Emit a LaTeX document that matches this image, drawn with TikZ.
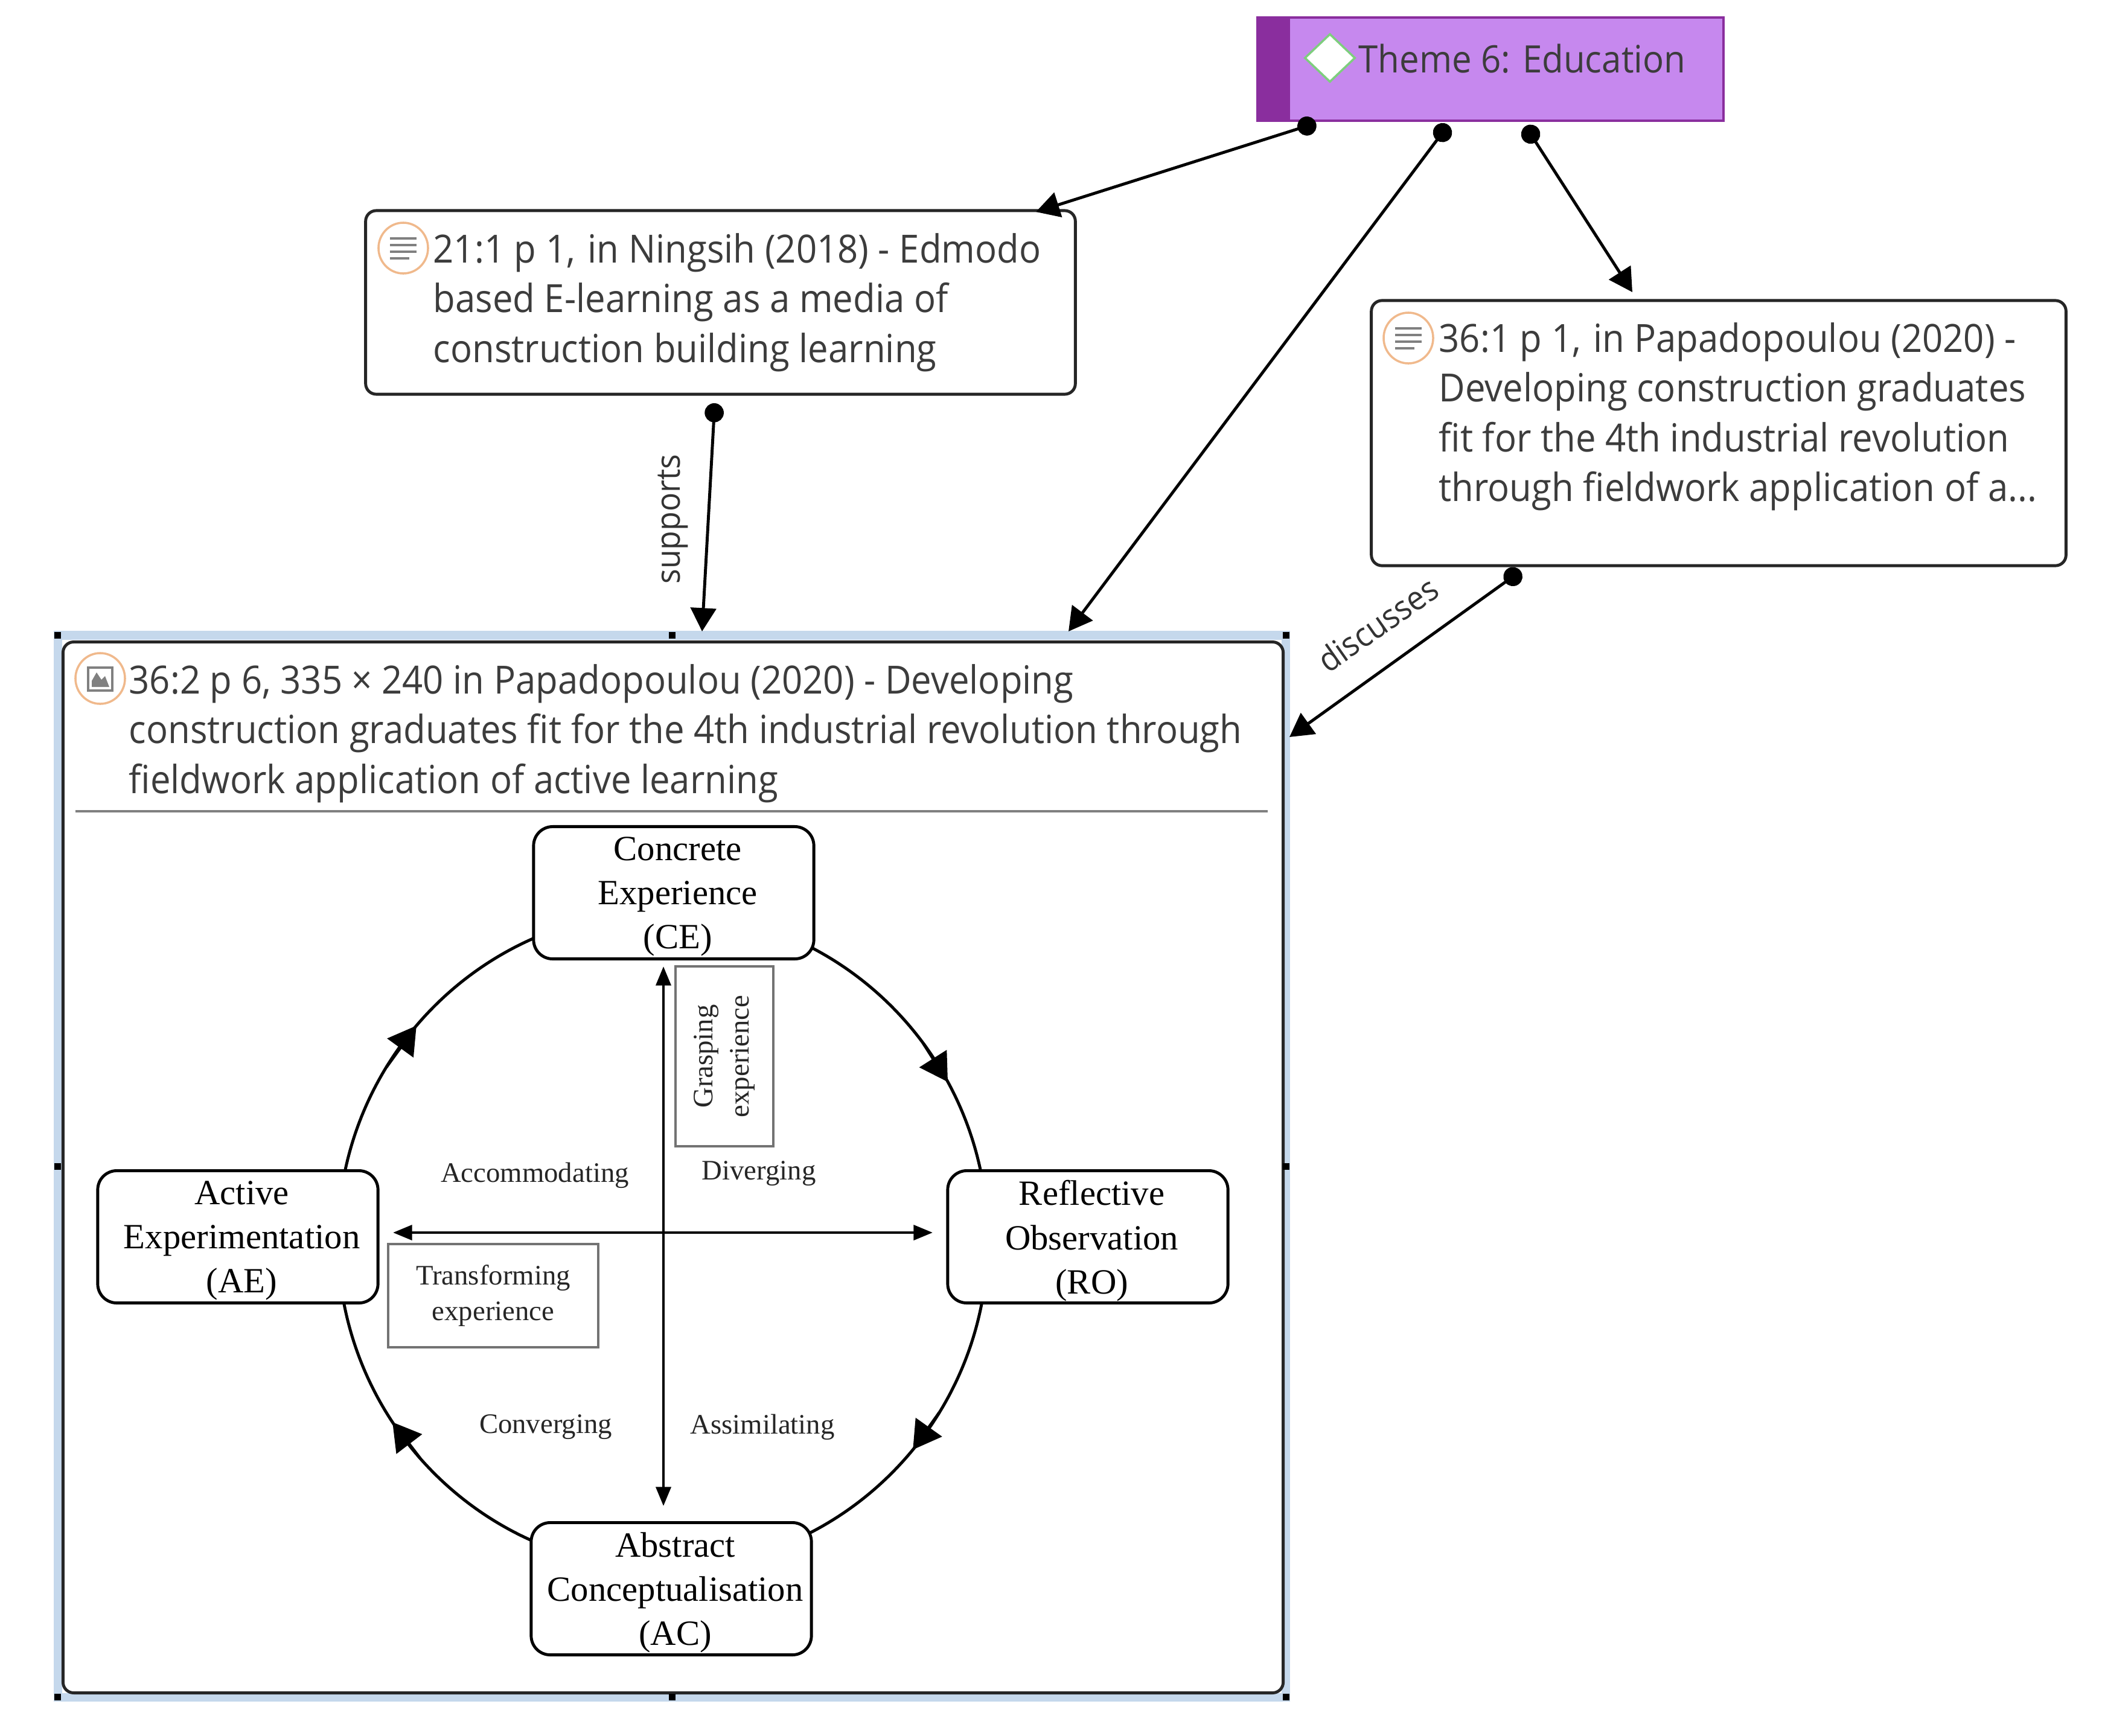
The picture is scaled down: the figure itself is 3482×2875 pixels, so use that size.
\documentclass[tikz,border=0pt]{standalone}
\usepackage{fontspec}
\setmainfont{Liberation Serif}
\newfontfamily\uifont[FakeStretch=0.93]{Open Sans}
\usetikzlibrary{arrows.meta, positioning, shapes.geometric}
\definecolor{uitext}{HTML}{3C3C3C}
\definecolor{themefill}{HTML}{C688EE}
\definecolor{themedark}{HTML}{8A2E9E}
\definecolor{selblue}{HTML}{C5D8EC}
\definecolor{ringorange}{HTML}{F0B98C}
\tikzset{
  note/.style={draw=black!85, line width=1.4pt, rounded corners=5pt, fill=white, inner sep=0pt, outer sep=0pt},
  notetext/.style={anchor=north west, inner sep=0pt, align=left, text=uitext,
    font=\uifont\fontsize{18.3}{23.4}\selectfont},
  reltext/.style={inner sep=0pt, text=black!80, font=\uifont\fontsize{15.8}{18}\selectfont},
  iconring/.style={draw=ringorange, line width=1pt, fill=white, ellipse, minimum width=0.82cm, minimum height=0.84cm, inner sep=0pt},
  iconline/.style={draw=gray, line width=1.1pt},
  link/.style={line width=1.4pt, {Circle[length=9pt,width=9pt]}-{Triangle[length=11pt,width=12pt]}},
  stage/.style={draw, line width=1.4pt, rounded corners=9pt, fill=white, inner sep=0pt, outer sep=0pt,
    minimum width=4.64cm, minimum height=2.19cm},
  stagetext/.style={inner sep=0pt, xshift=0.066cm, yshift=-0.066cm, align=center, font=\fontsize{16.7}{20.8}\selectfont},
  small/.style={inner sep=0pt, align=center, font=\fontsize{13.3}{17}\selectfont, text=black!85},
  smallbox/.style={draw=black!55, line width=1pt, inner sep=0pt, outer sep=0pt},
  axis/.style={line width=1.4pt, {Triangle[length=9pt,width=7pt]}-{Triangle[length=9pt,width=7pt]}},
  turn/.style={line width=1.4pt, -{Triangle[length=13pt,width=15pt]}},
  handle/.style={fill=black, inner sep=0pt, minimum size=0.11cm}
}
\begin{document}
\begin{tikzpicture}[x=0.01cm, y=-0.01cm]
  \useasboundingbox (0,0) rectangle (3482,2875);

  % theme
  \node[fill=themefill, draw=themedark, line width=1.1pt, minimum width=7.72cm, minimum height=1.71cm, inner sep=0pt, outer sep=0pt] (theme) at (2469,114.5) {};
  \fill[themedark] (theme.north west) rectangle (2137,200);
  \node[diamond, draw=green!45!gray!70, fill=white, line width=1pt, minimum width=0.84cm, minimum height=0.8cm, inner sep=0pt] (themeicon) at (2203,96) {};
  \node[notetext, font=\uifont\fontsize{17.8}{23.4}\selectfont] (themetext) at (2250,72) {Theme 6: Education};

  % quotations
  \node[note, minimum width=11.75cm, minimum height=3.04cm] (n21) at (1193.5,501) {};
  \node[note, minimum width=11.5cm, minimum height=4.39cm] (n36) at (2847,717.5) {};
  \foreach \n/\ix/\iy in {a/668/411,b/2333/560}
  {
    \node[iconring] (ic\n) at (\ix,\iy) {};
    \foreach \k/\w in {0/22,1/22,2/22,3/10}
      \draw[iconline] (\ix-22,\iy-16+\k*11) -- (\ix+\w,\iy-16+\k*11);
  }
  \node[notetext] (t21) at (717,386) {21:1 p 1,\ \kern1.5pt in Ningsih (2018) - Edmodo\\based E-learning as a media of\\construction building learning};
  \node[notetext] (t36) at (2383,534) {36:1 p 1,\ \kern1.5pt in Papadopoulou (2020) -\\Developing construction graduates\\fit for the 4th industrial revolution\\through fieldwork application of a...};

  % selected picture
  \node[draw=selblue, line width=4pt, minimum width=20.33cm, minimum height=17.58cm, inner sep=0pt, outer sep=0pt] (sel) at (1113,1932) {};
  \node[note, minimum width=20.2cm, minimum height=17.4cm] (pict) at (1115,1934) {};
  \foreach \a/\n in {north west/a,north/b,north east/c,west/d,east/e,south west/f,south/g,south east/h}
    \node[handle] (hd\n) at (sel.\a) {};
  \node[iconring] (icp) at (166,1124) {};
  \draw[draw=gray, line width=1pt] (146,1106) rectangle (186,1144);
  \fill[gray] (152,1138) -- (152,1128) -- (160,1114) -- (168,1126) -- (174,1120) -- (181,1138) -- cycle;
  \node[notetext] (tp) at (213,1100) {36:2 p 6, 335 × 240 in Papadopoulou (2020) - Developing\\construction graduates fit for the 4th industrial revolution through\\fieldwork application of active learning};
  \draw[draw=gray, line width=1pt] (125,1344) -- (2100,1344);

  % cycle
  \node[ellipse, draw, line width=1.4pt, minimum width=10.76cm, minimum height=10.88cm, inner sep=0pt, outer sep=0pt] (ring) at (1098,2054) {};
  \foreach \p/\q in {148/139.5,37/29,-32/-40,222.5/214}
    \draw[turn] (ring.\p) -- (ring.\q);
  \foreach \n/\ix/\iy/\txt in {ce/1116/1479/{Concrete\\Experience\\(CE)},
                               ro/1802/2049/{Reflective\\Observation\\(RO)},
                               ac/1112/2632/{Abstract\\Conceptualisation\\(AC)},
                               ae/394/2049/{Active\\Experimentation\\(AE)}}
  {
    \node[stage] (\n) at (\ix,\iy) {};
    \node[stagetext] (\n text) at (\n) {\txt};
  }
  \coordinate (vtop) at (1099,1601);
  \coordinate (vbot) at (1099,2495);
  \coordinate (hleft) at (651,2042);
  \coordinate (hright) at (1545,2042);
  \draw[axis] (vtop) -- (vbot);
  \draw[axis] (hleft) -- (hright);
  \node[smallbox, minimum width=1.62cm, minimum height=2.98cm] (grasp) at (1200,1750) {};
  \node[small, rotate=90] (grasptext) at (grasp) {Grasping\\experience};
  \node[smallbox, minimum width=3.48cm, minimum height=1.71cm] (trans) at (817,2146.5) {};
  \node[small] (transtext) at (trans) {Transforming\\experience};
  \node[small] (acc) at (886,1947) {Accommodating};
  \node[small] (div) at (1257,1944) {Diverging};
  \node[small] (conv) at (904,2364) {Converging};
  \node[small] (assim) at (1263,2364) {Assimilating};

  % links
  \coordinate (s1) at (2180,204);
  \coordinate (s2) at (2399,207);
  \coordinate (s3) at (2527,209);
  \coordinate (s4) at (2519,946);
  \coordinate (s5) at (1184,668);
  \coordinate (e1) at (1716,351);
  \coordinate (e2) at (1770,1046);
  \coordinate (e3) at (2704,484);
  \coordinate (e4) at (2136,1221);
  \coordinate (e5) at (1163,1046);
  \foreach \s/\e in {s1/e1,s2/e2,s3/e3,s4/e4,s5/e5}
    \draw[link] (\s) -- (\e);
  \node[reltext, rotate=90] (supports) at (1115,860) {supports};
  \node[reltext, rotate=35] (discusses) at (2282,1034) {discusses};
\end{tikzpicture}
\end{document}
